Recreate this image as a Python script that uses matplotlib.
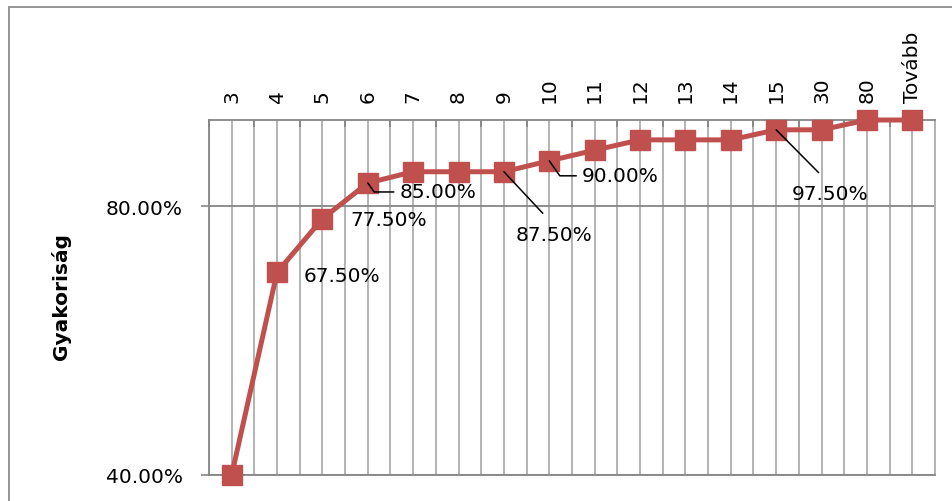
import matplotlib
matplotlib.use("Agg")
import matplotlib.pyplot as plt
from matplotlib.patches import Rectangle
from matplotlib.ticker import FixedLocator, NullLocator, NullFormatter

# cumulative frequency per bin
categories = ["3", "4", "5", "6", "7", "8", "9", "10", "11", "12", "13", "14",
              "15", "30", "80", "Tovább"]
cum_freq = [0.40, 0.675, 0.775, 0.85, 0.875, 0.875, 0.875, 0.90, 0.925, 0.95,
            0.95, 0.95, 0.975, 0.975, 1.00, 1.00]

# which points get a data label: (index, text offset px, leader style)
LABELS = [
    (1, (65, -3), None),
    (2, (66, -1), None),
    (3, (70, -9), "elbow"),
    (6, (50, -63), "straight"),
    (7, (71, -15), "elbow"),
    (12, (54, -64), "straight"),
]

RED = "#C0504D"
FRAME = "#868686"
GRID = "#B3B3B3"
FONTSIZE = 14.5

plt.rcParams["font.family"] = "DejaVu Sans"

fig = plt.figure(figsize=(9.53, 5.02), dpi=100)
W, H = 953, 502
ax = fig.add_axes([209 / W, 1 - 476 / H, (935 - 209) / W, (476 - 121) / H])

x = list(range(len(categories)))
ax.plot(x, cum_freq, color=RED, lw=3.6, marker="s", markersize=14.5,
        markerfacecolor=RED, markeredgecolor=RED, zorder=3, clip_on=False)

# log axis, 40% .. 100%
ax.set_yscale("log")
ax.set_ylim(0.4, 1.0)
ax.yaxis.set_major_locator(FixedLocator([0.4, 0.8]))
ax.yaxis.set_minor_locator(NullLocator())
ax.yaxis.set_minor_formatter(NullFormatter())
ax.set_yticklabels(["40.00%", "80.00%"])
ax.tick_params(axis="y", which="major", direction="out", length=6, width=1.2,
               color=FRAME, labelsize=FONTSIZE, pad=13)
ax.yaxis.grid(True, which="major", color=FRAME, lw=1.3)

# categories on top, boundary ticks + centre labels
ax.set_xlim(-0.5, len(categories) - 0.5)
bounds = [i - 0.5 for i in range(len(categories) + 1)]
ax.xaxis.set_major_locator(FixedLocator(bounds))
ax.xaxis.set_major_formatter(NullFormatter())
ax.xaxis.set_minor_locator(FixedLocator(x))
ax.set_xticklabels(categories, minor=True, rotation=90)
ax.xaxis.tick_top()
ax.tick_params(axis="x", which="major", direction="in", length=5, width=1.3,
               color=FRAME, top=True, bottom=False)
ax.tick_params(axis="x", which="minor", length=0, labelsize=FONTSIZE, pad=13,
               top=True, bottom=False, labeltop=True, labelbottom=False)
ax.xaxis.grid(True, which="both", color=GRID, lw=1.4)
ax.set_axisbelow(True)

for side in ["left", "top", "bottom"]:
    ax.spines[side].set_color(FRAME)
    ax.spines[side].set_linewidth(1.3)
ax.spines["right"].set_color(GRID)
ax.spines["right"].set_linewidth(1.4)

# data labels
for i, (dx, dy), style in LABELS:
    txt = f"{cum_freq[i] * 100:.2f}%"
    if style is None:
        ax.annotate(txt, xy=(i, cum_freq[i]), xytext=(dx, dy),
                    textcoords="offset pixels", ha="center", va="center",
                    fontsize=FONTSIZE, zorder=5)
    elif style == "straight":
        ax.annotate(txt, xy=(i, cum_freq[i]), xytext=(dx, dy),
                    textcoords="offset pixels", ha="center", va="center",
                    fontsize=FONTSIZE, zorder=5,
                    arrowprops=dict(arrowstyle="-", color="black", lw=1.1,
                                    relpos=(0.5, 1.0), shrinkA=9, shrinkB=0))
    else:
        ax.annotate(txt, xy=(i, cum_freq[i]), xytext=(dx, dy),
                    textcoords="offset pixels", ha="center", va="center",
                    fontsize=FONTSIZE, zorder=5,
                    arrowprops=dict(arrowstyle="-", color="black", lw=1.1,
                                    relpos=(0.0, 0.5), shrinkA=2, shrinkB=0,
                                    connectionstyle="angle,angleA=0,angleB=-55,rad=0"))

fig.text(61 / W, 1 - 297 / H, "Gyakoriság", rotation=90, ha="center",
         va="center", fontsize=14.5, fontweight="bold")

# chart area border
fig.add_artist(Rectangle((9.5 / W, -0.2), 1.2, 1.2 - 7.5 / H,
                         transform=fig.transFigure, fill=False,
                         edgecolor="#8C8C8C", lw=1.3))

fig.savefig("out.png", dpi=100)
